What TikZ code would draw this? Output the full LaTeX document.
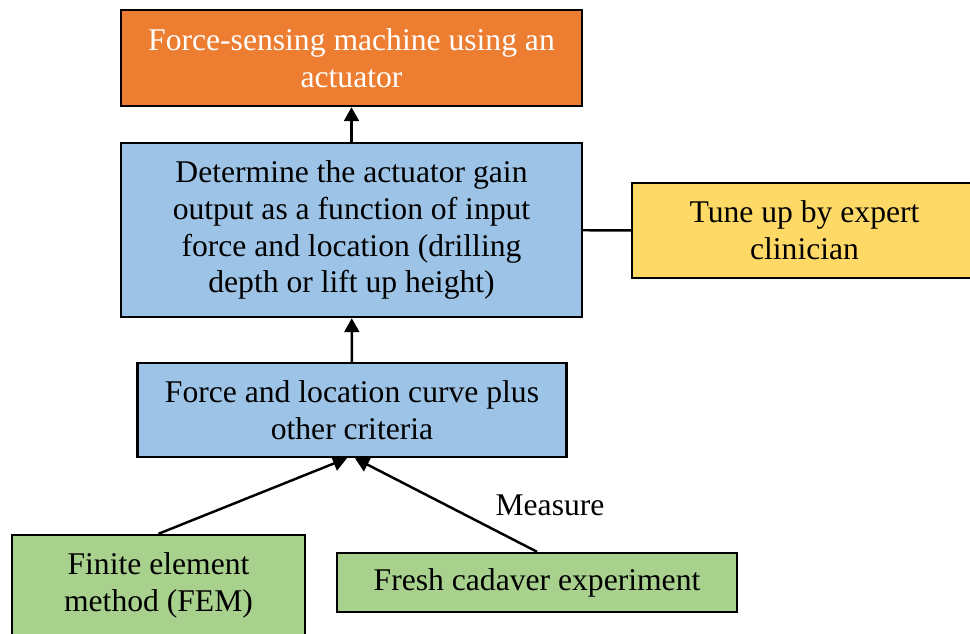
\documentclass[tikz,border=0pt]{standalone}
\usepackage{fontspec}
\setmainfont{Liberation Serif}
\usetikzlibrary{positioning,arrows.meta}
\definecolor{colormachine}{RGB}{237,125,49}
\definecolor{colorstep}   {RGB}{157,195,230}
\definecolor{colortune}   {RGB}{255,217,102}
\definecolor{colorsource} {RGB}{169,209,142}
\definecolor{colortext}   {RGB}{0,0,0}

\begin{document}
\begin{tikzpicture}[
    x=0.02cm, y=-0.02cm,
    font={\fontsize{18}{21}\selectfont},
    base/.style={text=colortext,align=center,rectangle,draw=black,line width=1.4pt,inner sep=0pt},
    flow/.style={-{Triangle[length=0.28cm,width=0.3cm]},line width=1.4pt},
    link/.style={line width=1.4pt},
]

    \clip (0,0) rectangle (970,633);
    \useasboundingbox (0,0) rectangle (970,633);

    \node[base,fill=colormachine,text=white,minimum width=9.22cm,minimum height=1.92cm] at (351.5,58) (machine) {Force-sensing machine using an\\actuator};

    \node[base,fill=colorstep,minimum width=9.22cm,minimum height=3.48cm] at (351.5,230) (gain) {Determine the actuator gain\\output as a function of input\\force and location (drilling\\depth or lift up height)};

    \node[base,fill=colortune,minimum width=6.9cm,minimum height=1.9cm] at (804.5,230.5) (tune) {Tune up by expert\\clinician};

    \node[base,fill=colorstep,minimum width=8.58cm,minimum height=1.88cm] at (352,410) (curve) {Force and location curve plus\\other criteria};

    \node[base,fill=colorsource,minimum width=5.86cm,minimum height=2cm] at (158.5,585) (fem) {Finite element\\method (FEM)};
    \node[base,fill=colorsource,minimum width=8cm,minimum height=1.18cm] at (537,582.5) (cadaver) {Fresh cadaver experiment};

    \node at (550,505) (measure) {Measure};

    \draw[flow](curve) to (gain);
    \draw[flow](gain) to (machine);
    \draw[link](gain) to (tune);
    \draw[flow](fem.north) to ([xshift=-0.1cm]curve.south);
    \draw[flow](cadaver.north) to ([xshift=0.06cm]curve.south);

\end{tikzpicture}
\end{document}
